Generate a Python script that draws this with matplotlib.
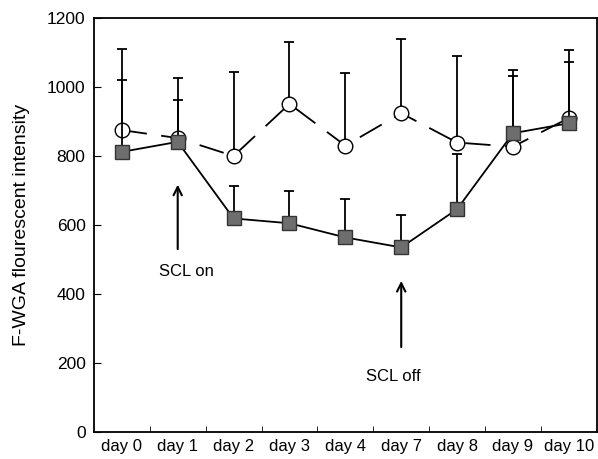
import numpy as np
import matplotlib.pyplot as plt

plt.rcParams['font.family'] = ['Liberation Sans', 'DejaVu Sans']

days = ['day 0', 'day 1', 'day 2', 'day 3', 'day 4', 'day 7', 'day 8', 'day 9', 'day 10']

# open circles (dashed)
circle_mean = [875, 852, 800, 951, 830, 924, 839, 827, 910]
circle_upper = [1110, 1025, 1044, 1130, 1040, 1138, 1091, 1049, 1107]

# filled squares (solid)
square_mean = [812, 841, 619, 605, 564, 535, 646, 866, 895]
square_upper = [1020, 962, 714, 699, 674, 629, 805, 1033, 1073]

x = np.arange(len(days))

fig = plt.figure(figsize=(5.98, 4.59), dpi=100)
ax = fig.add_axes([0.157, 0.0588, 0.841, 0.902])

c_err = np.array(circle_upper) - np.array(circle_mean)
s_err = np.array(square_upper) - np.array(square_mean)

ax.errorbar(x, circle_mean, yerr=[np.zeros(len(x)), c_err], fmt='none',
            ecolor='black', elinewidth=1.3, capsize=3.5, capthick=1.3, zorder=1)
ax.plot(x, circle_mean, color='black', lw=1.3, dashes=(14, 8), zorder=2)
ax.plot(x, circle_mean, 'o', ms=10.5, mfc='white', mec='black', mew=1.0, zorder=3)

ax.errorbar(x, square_mean, yerr=[np.zeros(len(x)), s_err], fmt='none',
            ecolor='black', elinewidth=1.3, capsize=3.5, capthick=1.3, zorder=4)
ax.plot(x, square_mean, '-', color='black', lw=1.3, zorder=5)
ax.plot(x, square_mean, 's', ms=10.5, mfc='#6e6e6e', mec='#333333', mew=1.0, zorder=6)

ax.annotate('', xy=(1, 725), xytext=(1, 522),
            arrowprops=dict(arrowstyle='->', lw=1.5, color='black', mutation_scale=15))
ax.text(1.15, 464, 'SCL on', ha='center', va='center', fontsize=12)
ax.annotate('', xy=(5, 446), xytext=(5, 238),
            arrowprops=dict(arrowstyle='->', lw=1.5, color='black', mutation_scale=15))
ax.text(4.85, 162, 'SCL off', ha='center', va='center', fontsize=12)

ax.set_xlim(-0.5, len(days) - 0.5)
ax.set_ylim(0, 1200)
ax.set_yticks(range(0, 1201, 200))
ax.set_xticks(x)
ax.set_xticklabels(days)
ax.set_xticks(np.arange(0.5, len(days) - 1, 1), minor=True)
ax.tick_params(axis='x', which='major', length=0, labelsize=12, pad=5)
ax.tick_params(axis='x', which='minor', direction='in', length=4)
ax.tick_params(axis='y', direction='in', length=5, labelsize=12.5, pad=6)
ax.set_ylabel('F-WGA flourescent intensity', fontsize=14, labelpad=12)
for s in ax.spines.values():
    s.set_linewidth(1.3)

fig.savefig('out.png', dpi=100)
